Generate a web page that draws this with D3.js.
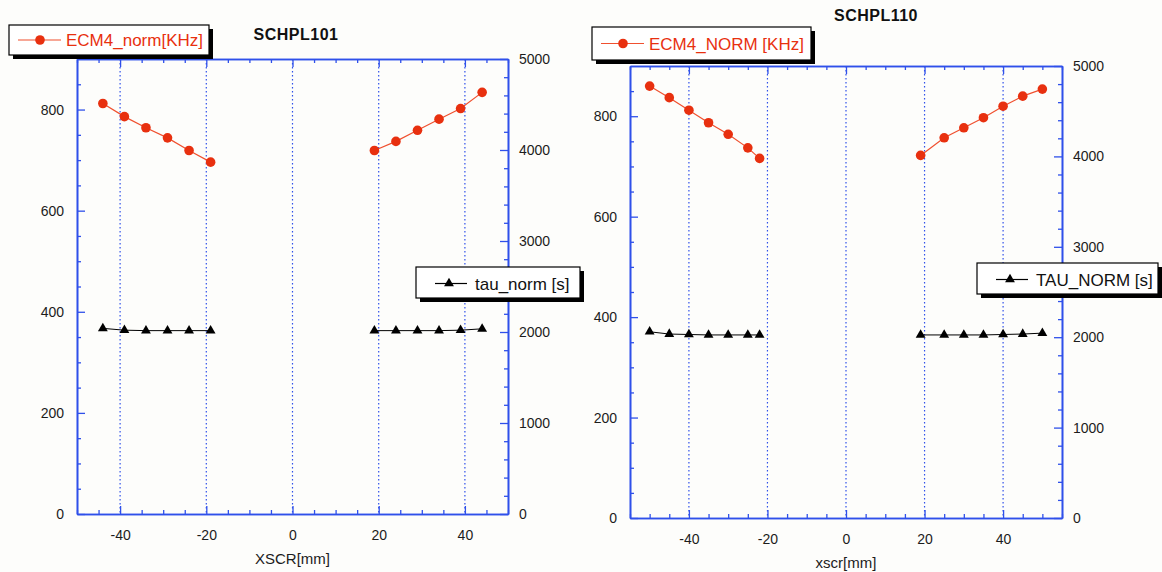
<!DOCTYPE html>
<html>
<head>
<meta charset="utf-8">
<script src="https://cdn.jsdelivr.net/npm/d3@7"></script>
<style>
  body { margin: 0; background: #fdfdfb; }
  svg { display: block; font-family: "Liberation Sans", Arial, sans-serif; }
</style>
</head>
<body>
<svg id="chart" width="1162" height="572"></svg>
<script>
// values, one list per segment (no line between them)
const x101 = [[-44, -39, -34, -29, -24, -19], [19, 24, 29, 34, 39, 44]];
const ecm101 = [[812, 786, 764, 744, 719, 696], [719, 737, 759, 781, 802, 834]];
const tau101 = [[2040, 2020, 2015, 2015, 2015, 2015], [2015, 2015, 2015, 2015, 2020, 2035]];

const x110 = [[-50, -45, -40, -35, -30, -25, -22], [19, 25, 30, 35, 40, 45, 50]];
const ecm110 = [[860, 837, 812, 787, 764, 737, 716], [722, 757, 777, 797, 820, 840, 854]];
const tau110 = [[2060, 2035, 2030, 2025, 2025, 2025, 2025], [2025, 2025, 2025, 2025, 2030, 2035, 2045]];

const xMajor = [-40, -20, 0, 20, 40];
const leftMajor = [0, 200, 400, 600, 800];
const rightMajor = [0, 1000, 2000, 3000, 4000, 5000];

const blue = '#2f50ea';
const red = '#e8300f';
const plain = d => String(d);  // hyphen minus, no thousands comma

const panels = [
  {
    title: 'SCHPL101', ecmLabel: 'ECM4_norm[KHz]', tauLabel: 'tau_norm [s]', xLabel: 'XSCR[mm]',
    xs: x101, ecm: ecm101, tau: tau101, xDomain: [-50, 50],
    box: {left: 77, right: 508, top: 59, bottom: 514},
    titleAt: [296, 40], leg1: {x: 9, y: 25, w: 200, h: 30}, leg2: {x: 416, y: 267, w: 164, h: 31}
  },
  {
    title: 'SCHPL110', ecmLabel: 'ECM4_NORM [KHz]', tauLabel: 'TAU_NORM [s]', xLabel: 'xscr[mm]',
    xs: x110, ecm: ecm110, tau: tau110, xDomain: [-55, 55],
    box: {left: 630, right: 1062, top: 66, bottom: 518},
    titleAt: [876, 21], leg1: {x: 592, y: 27, w: 219, h: 33}, leg2: {x: 977, y: 263, w: 181, h: 31}
  }
];

const svg = d3.select('#chart');

function styleAxis(g) {
  g.select('.domain').attr('stroke', blue).attr('stroke-width', 1.6);
  g.selectAll('.tick line').attr('stroke', blue).attr('stroke-width', 1.3);
  g.selectAll('.tick text').attr('fill', '#1c1c1c').style('font-size', '14px');
}

function legendBox(g, b) {
  g.append('rect').attr('x', b.x + 4).attr('y', b.y + 4).attr('width', b.w).attr('height', b.h).attr('fill', '#000');
  g.append('rect').attr('x', b.x).attr('y', b.y).attr('width', b.w).attr('height', b.h)
    .attr('fill', '#fff').attr('stroke', '#000').attr('stroke-width', 1.2);
}

panels.forEach(p => {
  const b = p.box;
  const x = d3.scaleLinear().domain(p.xDomain).range([b.left, b.right]);
  const yL = d3.scaleLinear().domain([0, 900]).range([b.bottom, b.top]);
  const yR = d3.scaleLinear().domain([0, 5000]).range([b.bottom, b.top]);
  const xMinor = d3.range(Math.ceil(p.xDomain[0] / 5) * 5, p.xDomain[1] + 0.1, 5).filter(v => v % 20 !== 0);
  const g = svg.append('g');

  // dotted verticals
  g.append('g').selectAll('line').data(xMajor).join('line')
    .attr('x1', d => x(d)).attr('x2', d => x(d))
    .attr('y1', b.top).attr('y2', b.bottom)
    .attr('stroke', blue).attr('stroke-width', 1.2).attr('stroke-dasharray', '1.5,2.5');

  // axes, ticks inward
  g.append('g').attr('transform', `translate(0,${b.bottom})`)
    .call(d3.axisBottom(x).tickValues(xMajor).tickFormat(plain).tickSizeInner(-8).tickSizeOuter(0).tickPadding(16))
    .call(styleAxis);
  g.append('g').attr('transform', `translate(0,${b.bottom})`)
    .call(d3.axisBottom(x).tickValues(xMinor).tickFormat('').tickSizeInner(-4).tickSizeOuter(0))
    .call(styleAxis);
  g.append('g').attr('transform', `translate(0,${b.top})`)
    .call(d3.axisTop(x).tickValues(xMajor).tickFormat('').tickSizeInner(-8).tickSizeOuter(0))
    .call(styleAxis);
  g.append('g').attr('transform', `translate(0,${b.top})`)
    .call(d3.axisTop(x).tickValues(xMinor).tickFormat('').tickSizeInner(-4).tickSizeOuter(0))
    .call(styleAxis);
  g.append('g').attr('transform', `translate(${b.left},0)`)
    .call(d3.axisLeft(yL).tickValues(leftMajor).tickFormat(plain).tickSizeInner(-8).tickSizeOuter(0).tickPadding(13))
    .call(styleAxis);
  g.append('g').attr('transform', `translate(${b.left},0)`)
    .call(d3.axisLeft(yL).tickValues(d3.range(50, 900, 50).filter(v => v % 200 !== 0)).tickFormat('').tickSizeInner(-4).tickSizeOuter(0))
    .call(styleAxis);
  g.append('g').attr('transform', `translate(${b.right},0)`)
    .call(d3.axisRight(yR).tickValues(rightMajor).tickFormat(plain).tickSizeInner(-8).tickSizeOuter(0).tickPadding(11))
    .call(styleAxis);
  g.append('g').attr('transform', `translate(${b.right},0)`)
    .call(d3.axisRight(yR).tickValues(d3.range(200, 5000, 200).filter(v => v % 1000 !== 0)).tickFormat('').tickSizeInner(-4).tickSizeOuter(0))
    .call(styleAxis);

  // series
  p.xs.forEach((xs, i) => {
    const ecmPts = xs.map((v, j) => [v, p.ecm[i][j]]);
    const tauPts = xs.map((v, j) => [v, p.tau[i][j]]);
    g.append('path').attr('d', d3.line().x(d => x(d[0])).y(d => yR(d[1]))(tauPts))
      .attr('fill', 'none').attr('stroke', '#000').attr('stroke-width', 1);
    g.append('g').selectAll('path').data(tauPts).join('path')
      .attr('transform', d => `translate(${x(d[0])},${yR(d[1])})`)
      .attr('d', d3.symbol(d3.symbolTriangle).size(42)).attr('fill', '#000');
    g.append('path').attr('d', d3.line().x(d => x(d[0])).y(d => yL(d[1]))(ecmPts))
      .attr('fill', 'none').attr('stroke', '#f0502f').attr('stroke-width', 1.2);
    g.append('g').selectAll('circle').data(ecmPts).join('circle')
      .attr('cx', d => x(d[0])).attr('cy', d => yL(d[1])).attr('r', 4.8).attr('fill', red);
  });

  // titles
  g.append('text').attr('x', p.titleAt[0]).attr('y', p.titleAt[1]).attr('text-anchor', 'middle')
    .style('font-size', '16px').style('font-weight', 'bold').style('letter-spacing', '0.5px').attr('fill', '#111')
    .text(p.title);
  g.append('text').attr('x', (b.left + b.right) / 2).attr('y', b.bottom + 50).attr('text-anchor', 'middle')
    .style('font-size', '15px').attr('fill', '#1c1c1c').text(p.xLabel);

  // legends
  const l1 = p.leg1, l2 = p.leg2;
  const lg1 = g.append('g');
  legendBox(lg1, l1);
  const cy1 = l1.y + l1.h / 2;
  lg1.append('line').attr('x1', l1.x + 9).attr('x2', l1.x + 52).attr('y1', cy1).attr('y2', cy1)
    .attr('stroke', '#f0502f').attr('stroke-width', 1.2);
  lg1.append('circle').attr('cx', l1.x + 31).attr('cy', cy1).attr('r', 4.8).attr('fill', red);
  lg1.append('text').attr('x', l1.x + 57).attr('y', cy1 + 6).style('font-size', '17px').attr('fill', red).text(p.ecmLabel);

  const lg2 = g.append('g');
  legendBox(lg2, l2);
  const cy2 = l2.y + l2.h / 2 + 1;
  lg2.append('line').attr('x1', l2.x + 19).attr('x2', l2.x + 51).attr('y1', cy2).attr('y2', cy2)
    .attr('stroke', '#000').attr('stroke-width', 1.2);
  lg2.append('path').attr('transform', `translate(${l2.x + 33},${cy2})`)
    .attr('d', d3.symbol(d3.symbolTriangle).size(42)).attr('fill', '#000');
  lg2.append('text').attr('x', l2.x + 59).attr('y', cy2 + 6).style('font-size', '17px').attr('fill', '#111').text(p.tauLabel);
});
</script>
</body>
</html>
